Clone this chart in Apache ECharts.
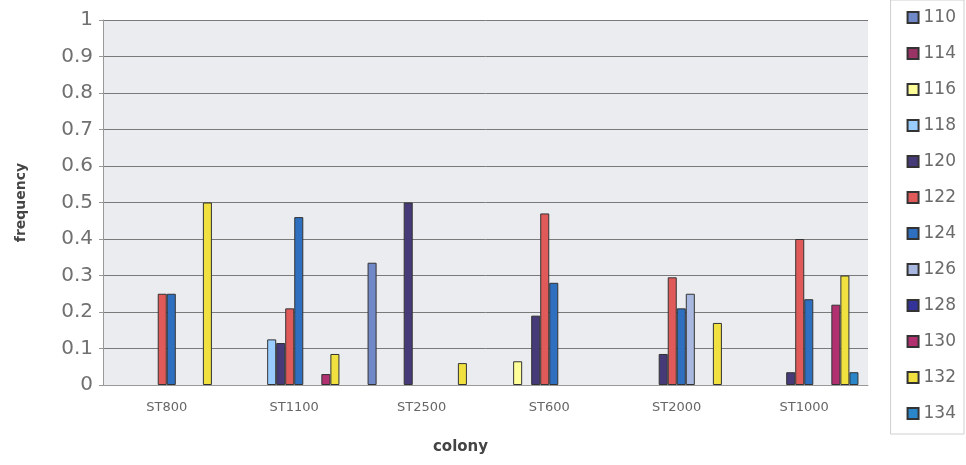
<!DOCTYPE html>
<html><head><meta charset="utf-8">
<script src="https://cdn.jsdelivr.net/npm/echarts@6/dist/echarts.min.js"></script>
<style>html,body{margin:0;padding:0;background:#fff}#c{width:966px;height:465px}</style>
</head><body><div id="c"></div>
<script>
const categories = ['ST800','ST1100','ST2500','ST600','ST2000','ST1000'];
const seriesNames = ['110','114','116','118','120','122','124','126','128','130','132','134'];
const s110 = [0, 0, 0.335, 0, 0, 0];
const s114 = [0, 0, 0, 0, 0, 0];
const s116 = [0, 0, 0, 0.065, 0, 0];
const s118 = [0, 0.125, 0, 0, 0, 0];
const s120 = [0, 0.115, 0.5, 0.19, 0.085, 0.035];
const s122 = [0.25, 0.21, 0, 0.47, 0.295, 0.4];
const s124 = [0.25, 0.46, 0, 0.28, 0.21, 0.235];
const s126 = [0, 0, 0, 0, 0.25, 0];
const s128 = [0, 0, 0, 0, 0, 0];
const s130 = [0, 0.03, 0, 0, 0, 0.22];
const s132 = [0.5, 0.085, 0.06, 0, 0.17, 0.3];
const s134 = [0, 0, 0, 0, 0, 0.035];
const yTicks = [0,0.1,0.2,0.3,0.4,0.5,0.6,0.7,0.8,0.9,1];

const values = [s110,s114,s116,s118,s120,s122,s124,s126,s128,s130,s132,s134];
const colors = ['#7088c8','#993366','#ffff99','#99ccff','#463a78','#e05a5a','#2f6fc0','#a8b8e0','#333399','#b03070','#f0e040','#2a86c8'];
const F = 'DejaVu Sans, Liberation Sans, Arial';

const chart = echarts.init(document.getElementById('c'), null, {renderer:'canvas'});
chart.setOption({
  animation:false,
  backgroundColor:'#ffffff',
  grid:{left:103, right:98, top:20, bottom:80, show:true, backgroundColor:'#eaecef', borderWidth:0},
  legend:{
    orient:'vertical', right:2, top:0, itemWidth:11, itemHeight:11, itemGap:19, icon:'rect',
    padding:[9,8,12,16], borderColor:'#cfcfcf', borderWidth:1,
    textStyle:{fontFamily:F, fontSize:17, color:'#6a6a6a'},
    data: seriesNames
  },
  xAxis:{
    type:'category', data:categories,
    name:'colony', nameLocation:'middle', nameGap:55,
    nameTextStyle:{fontFamily:F, fontSize:15, fontWeight:'bold', color:'#444', padding:[0,50,0,0]},
    axisLine:{show:true, lineStyle:{color:'#999'}},
    axisTick:{show:false},
    axisLabel:{fontFamily:F, fontSize:13, color:'#666', margin:16}
  },
  yAxis:{
    type:'value', min:0, max:1, interval:0.1,
    name:'frequency', nameLocation:'middle', nameGap:75, nameRotate:90,
    nameTextStyle:{fontFamily:F, fontSize:14, fontWeight:'bold', color:'#444'},
    axisLine:{show:true, lineStyle:{color:'#999'}},
    axisTick:{show:true, length:4, lineStyle:{color:'#999'}},
    axisLabel:{fontFamily:F, fontSize:20, color:'#707070', margin:10,
      formatter:function(v){ const t = yTicks.find(x=>Math.abs(x-v)<1e-9); return t===undefined? '' : String(t);} },
    splitLine:{show:true, lineStyle:{color:'#7a7a7a', width:1}}
  },
  series: seriesNames.map((n,i)=>({
    name:n, type:'bar', barGap:'0%', barCategoryGap:'15%',
    itemStyle:{color:colors[i], borderColor:'#333', borderWidth:1},
    data: values[i].map(v => v===0 ? null : v)
  }))
});
</script></body></html>
